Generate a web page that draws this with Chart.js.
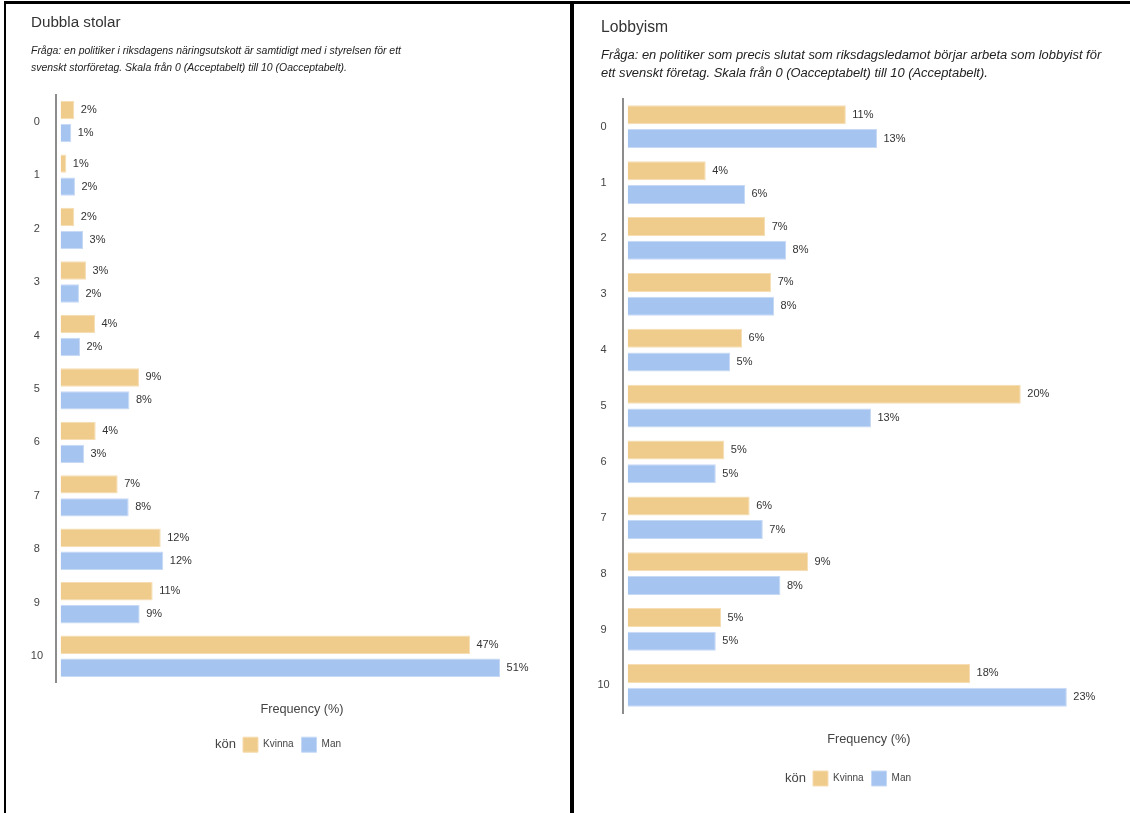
<!DOCTYPE html>
<html>
<head>
<meta charset="utf-8">
<script src="https://cdn.jsdelivr.net/npm/chart.js@4"></script>
<style>
  html, body { margin: 0; padding: 0; background: #fff; }
  body { width: 1130px; height: 813px; position: relative; overflow: hidden; }
  .panel { position: absolute; box-sizing: border-box; border-top: 3px solid #000; border-left: 2px solid #000; }
  canvas { position: absolute; }
</style>
</head>
<body>
<div class="panel" style="left:4px; top:1px; width:566px; height:812px;"></div>
<div class="panel" style="left:570px; top:1px; width:560px; height:812px; border-left-width:4px;"></div>
<canvas id="c1" width="548" height="809" style="left:20px; top:4px;"></canvas>
<canvas id="c2" width="540" height="809" style="left:590px; top:4px;"></canvas>
<script>
const categories = ['0','1','2','3','4','5','6','7','8','9','10'];
const seriesNames = ['Kvinna', 'Man'];
const legendTitle = 'kön';
const axisTitle = 'Frequency (%)';

const dubblaTitle = 'Dubbla stolar';
const dubblaSubtitle = ['Fråga: en politiker i riksdagens näringsutskott är samtidigt med i styrelsen för ett',
                        'svenskt storföretag. Skala från 0 (Acceptabelt) till 10 (Oacceptabelt).'];
const dubblaKvinna = [1.57, 0.65, 1.57, 2.92, 3.96, 9.04, 4.04, 6.58, 11.55, 10.62, 47.26];
const dubblaMan    = [1.22, 1.65, 2.58, 2.11, 2.23, 7.94, 2.69, 7.85, 11.85, 9.12, 50.73];

const lobbyTitle = 'Lobbyism';
const lobbySubtitle = ['Fråga: en politiker som precis slutat som riksdagsledamot börjar arbeta som lobbyist för',
                       'ett svenskt företag. Skala från 0 (Oacceptabelt) till 10 (Acceptabelt).'];
const lobbyKvinna = [11.27, 4.03, 7.10, 7.41, 5.91, 20.31, 4.99, 6.30, 9.32, 4.82, 17.69];
const lobbyMan    = [12.88, 6.06, 8.18, 7.56, 5.29, 12.57, 4.55, 6.98, 7.89, 4.55, 22.69];

const FONT = "'Liberation Sans', Arial, Helvetica, sans-serif";
const fillColors = ['#F0CC8C', '#A6C4F0'];
const edgeColors = ['#F6DDB3', '#C6D9F5'];

const valueLabels = {
  id: 'valueLabels',
  afterDatasetsDraw(chart) {
    const ctx = chart.ctx;
    ctx.save();
    ctx.font = '11px ' + FONT;
    ctx.fillStyle = '#333';
    ctx.textAlign = 'left';
    ctx.textBaseline = 'middle';
    chart.data.datasets.forEach((ds, i) => {
      chart.getDatasetMeta(i).data.forEach((bar, j) => {
        ctx.fillText(Math.round(ds.data[j]) + '%', bar.x + 6.5, bar.y);
      });
    });
    ctx.restore();
  }
};

const layoutTweaks = {
  id: 'layoutTweaks',
  afterLayout(chart, args, opts) {
    chart.boxes.forEach(b => {
      if (b.position === 'top' && b.fullSize && !b.axis) {
        b.left += opts.titleShift; b.right += opts.titleShift;
        const italic = b.options && b.options.font && b.options.font.style === 'italic';
        if (italic && !b._squeezed) {
          b._squeezed = true;
          const orig = b.draw.bind(b);
          b.draw = function () {
            const ctx = chart.ctx;
            ctx.save();
            ctx.translate(b.left, 0); ctx.scale(opts.subScaleX, 1); ctx.translate(-b.left, 0);
            orig();
            ctx.restore();
          };
        }
      }
    });
    const lg = chart.legend;
    if (lg) {
      const d = opts.legendCenter - (lg.left + lg.right) / 2;
      lg.left += d; lg.right += d;
    }
  },
  afterDraw(chart, args, opts) {
    const lg = chart.legend;
    if (!lg || !lg.legendHitBoxes.length) return;
    const hb = lg.legendHitBoxes[0];
    const ctx = chart.ctx;
    ctx.save();
    ctx.font = '13px ' + FONT;
    ctx.fillStyle = '#444';
    ctx.textAlign = 'right';
    ctx.textBaseline = 'middle';
    ctx.fillText(opts.legendText, hb.left - 7, hb.top + hb.height / 2);
    ctx.restore();
  }
};

function makeChart(id, title, subtitle, kvinna, man, p) {
  return new Chart(document.getElementById(id), {
    type: 'bar',
    data: {
      labels: categories,
      datasets: [kvinna, man].map((vals, i) => ({
        label: seriesNames[i],
        data: vals,
        backgroundColor: fillColors[i],
        borderColor: edgeColors[i],
        borderWidth: 1,
        borderSkipped: 'start',
        barPercentage: 0.8,
        categoryPercentage: p.catPct
      }))
    },
    options: {
      indexAxis: 'y',
      responsive: false,
      animation: false,
      devicePixelRatio: 1,
      layout: { padding: { top: 0, left: 0, right: p.padRight, bottom: p.padBottom } },
      scales: {
        x: {
          type: 'linear', min: p.xmin, max: p.xmax,
          ticks: { display: false },
          grid: { display: false, drawTicks: false },
          border: { display: false },
          title: { display: true, text: axisTitle, color: '#444',
                   font: { family: FONT, size: 12.7 }, padding: { top: p.xtTop, bottom: p.xtBottom } }
        },
        y: {
          type: 'category',
          grid: { display: false, drawTicks: false },
          border: { display: true, color: '#8c8c8c', width: 2 },
          ticks: { color: '#444', font: { family: FONT, size: 11 }, crossAlign: 'center', padding: 13 },
          afterFit(s) { s.width = p.yWidth; }
        }
      },
      plugins: {
        tooltip: { enabled: false },
        title: { display: true, text: title, align: 'start', color: '#333',
                 font: { family: FONT, size: p.titleSize, weight: 'normal', lineHeight: '17.4px' },
                 padding: { top: p.tTop, bottom: 0 } },
        subtitle: { display: true, text: subtitle, align: 'start', color: '#222',
                    font: { family: FONT, size: p.subSize, style: 'italic', lineHeight: '17.5px' },
                    padding: { top: p.sTop, bottom: p.sBottom } },
        legend: {
          display: true, position: 'bottom', align: 'center',
          labels: { boxWidth: 15, boxHeight: 15, padding: 8, color: '#444',
                    font: { family: FONT, size: 10 } }
        },
        layoutTweaks: { titleShift: 11, subScaleX: p.subScaleX, legendCenter: p.legendCenter, legendText: legendTitle }
      }
    },
    plugins: [valueLabels, layoutTweaks]
  });
}

makeChart('c1', dubblaTitle, dubblaSubtitle, dubblaKvinna, dubblaMan, {
  catPct: 0.86, padRight: 20, padBottom: 50.8, xmin: -0.54, xmax: 56.27,
  xtTop: 18.5, xtBottom: 12.5, yWidth: 36, titleSize: 15.2, subSize: 11, subScaleX: 0.95,
  tTop: 10.3, sTop: 10, sBottom: 18.2, legendCenter: 272
});
makeChart('c2', lobbyTitle, lobbySubtitle, lobbyKvinna, lobbyMan, {
  catPct: 0.85, padRight: 15, padBottom: 17, xmin: -0.26, xmax: 25.18,
  xtTop: 19, xtBottom: 15.5, yWidth: 32.7, titleSize: 15.7, subSize: 12, subScaleX: 1.076,
  tTop: 15.3, sTop: 10.5, sBottom: 16.6, legendCenter: 272
});
</script>
</body>
</html>
